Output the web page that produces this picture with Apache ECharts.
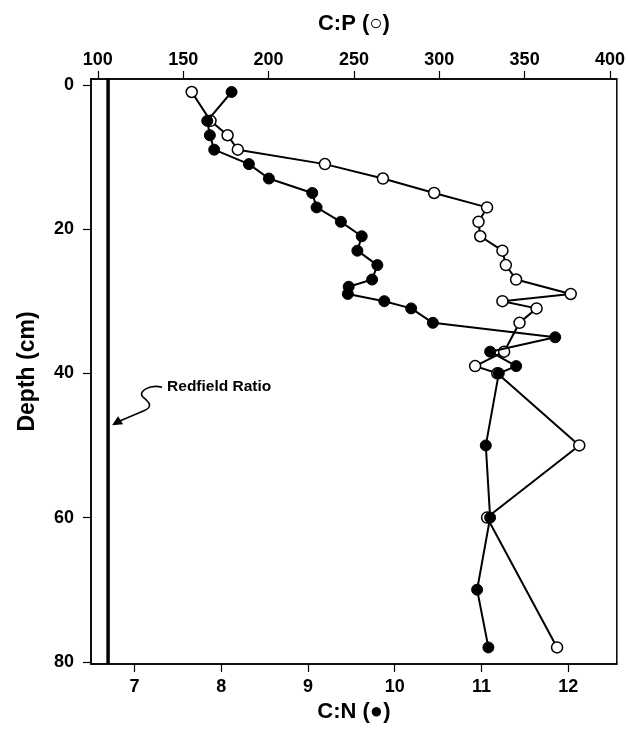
<!DOCTYPE html>
<html>
<head>
<meta charset="utf-8">
<script src="https://cdn.jsdelivr.net/npm/echarts@6/dist/echarts.min.js"></script>
<style>
  html, body { margin: 0; padding: 0; background: #fff; }
  #chart { width: 628px; height: 729px; }
</style>
</head>
<body>
<div id="chart"></div>
<script>
// Tick positions for the three axes
const depthTicks = [0, 20, 40, 60, 80];
const cnTicks = [7, 8, 9, 10, 11, 12];
const cpTicks = [100, 150, 200, 250, 300, 350, 400];

// C:N profile (filled circles): depth in cm, molar ratio
const cnDepth  = [1, 5, 7, 9, 11, 13, 15, 17, 19, 21, 23, 25, 27, 28, 29, 30, 31, 33, 35, 37, 39, 40, 50, 60, 70, 78];
const cnValues = [8.12, 7.84, 7.87, 7.92, 8.32, 8.55, 9.05, 9.10, 9.38, 9.62, 9.57, 9.80, 9.74, 9.47, 9.46, 9.88, 10.19, 10.44, 11.85, 11.10, 11.40, 11.20, 11.05, 11.10, 10.95, 11.08];

// C:P profile (open circles): depth in cm, molar ratio
const cpDepth  = [1, 5, 7, 9, 11, 13, 15, 17, 19, 21, 23, 25, 27, 29, 30, 31, 33, 37, 39, 40, 50, 60, 78];
const cpValues = [155, 166, 176, 182, 233, 267, 297, 328, 323, 324, 337, 339, 345, 377, 337, 357, 347, 338, 321, 334, 382, 328, 369];

// Redfield C:P ratio
const redfieldCP = 106;
const redfieldLabel = 'Redfield Ratio';

// Axis extents
const depthMin = -0.8, depthMax = 80.3;
const cnMin = 6.5, cnMax = 12.56;
const cpMin = 96, cpMax = 404;

const FONT = "'Liberation Sans', Arial, Helvetica, sans-serif";

const cnData = cnDepth.map((d, i) => [cnValues[i], d]);
const cpData = cpDepth.map((d, i) => [cpValues[i], d]);

const chart = echarts.init(document.getElementById('chart'), null, { renderer: 'canvas' });

const axisText = { color: '#000', fontFamily: FONT, fontWeight: 'bold', fontSize: 18 };
const nameText = { color: '#000', fontFamily: FONT, fontWeight: 'bold', fontSize: 22 };

function xAxisDef(pos, min, max, ticks, name, gap, margin) {
  return {
    type: 'value', position: pos, min: min, max: max,
    name: name, nameLocation: 'middle', nameGap: gap, nameTextStyle: nameText,
    axisLine: { show: true, onZero: false, lineStyle: { color: '#000', width: 1.5 } },
    axisTick: { show: true, inside: false, length: 8, customValues: ticks, lineStyle: { color: '#000', width: 1.2 } },
    axisLabel: Object.assign({ customValues: ticks, margin: margin }, axisText),
    splitLine: { show: false }
  };
}

chart.setOption({
  animation: false,
  backgroundColor: '#fff',
  grid: { left: 91, right: 8, top: 79, bottom: 65, show: true, borderColor: '#000', borderWidth: 1.5, backgroundColor: '#fff' },
  xAxis: [
    xAxisDef('bottom', cnMin, cnMax, cnTicks, 'C:N (●)', 36, 14),
    xAxisDef('top', cpMin, cpMax, cpTicks, 'C:P (○)', 44, 10)
  ],
  yAxis: {
    type: 'value', inverse: true, min: depthMin, max: depthMax,
    name: 'Depth (cm)', nameLocation: 'middle', nameGap: 52, nameTextStyle: Object.assign({}, nameText, { fontSize: 23 }),
    axisLine: { show: true, onZero: false, lineStyle: { color: '#000', width: 1.5 } },
    axisTick: { show: true, inside: false, length: 8, customValues: depthTicks, lineStyle: { color: '#000', width: 1.2 } },
    axisLabel: Object.assign({ customValues: depthTicks, margin: 17 }, axisText),
    splitLine: { show: false }
  },
  series: [
    {
      name: 'Redfield', type: 'line', xAxisIndex: 1, yAxisIndex: 0,
      data: [[redfieldCP, depthMin], [redfieldCP, depthMax]],
      symbol: 'none', lineStyle: { color: '#000', width: 3.5 }, z: 3
    },
    {
      name: 'C:P', type: 'line', xAxisIndex: 1, yAxisIndex: 0, data: cpData,
      symbol: 'circle', symbolSize: 11,
      lineStyle: { color: '#000', width: 2 },
      itemStyle: { color: '#fff', borderColor: '#000', borderWidth: 1.5 }, z: 4
    },
    {
      name: 'C:N', type: 'line', xAxisIndex: 0, yAxisIndex: 0, data: cnData,
      symbol: 'circle', symbolSize: 11,
      lineStyle: { color: '#000', width: 2 },
      itemStyle: { color: '#000', borderColor: '#000', borderWidth: 1 }, z: 5
    }
  ]
});

// Annotation: label with a curly arrow pointing at the Redfield line
const tip = chart.convertToPixel({ xAxisIndex: 1, yAxisIndex: 0 }, [redfieldCP, 47.2]);
const tx = tip[0] + 4, ty = tip[1];
const sx = tx + 50, sy = ty - 38;
chart.setOption({
  graphic: [
    {
      type: 'text', x: sx + 5, y: sy - 9, z: 10,
      style: { text: redfieldLabel, fill: '#000', font: 'bold 15.5px ' + FONT }
    },
    {
      type: 'bezierCurve', z: 10,
      shape: { x1: sx, y1: sy, cpx1: sx - 12, cpy1: sy - 3, cpx2: sx - 25, cpy2: sy + 4, x2: sx - 19, y2: sy + 10 },
      style: { fill: null, stroke: '#000', lineWidth: 1.6 }
    },
    {
      type: 'bezierCurve', z: 10,
      shape: { x1: sx - 19, y1: sy + 10, cpx1: sx - 13, cpy1: sy + 15, cpx2: sx - 9, cpy2: sy + 19, x2: sx - 17, y2: sy + 23 },
      style: { fill: null, stroke: '#000', lineWidth: 1.6 }
    },
    {
      type: 'line', z: 10,
      shape: { x1: sx - 17, y1: sy + 23, x2: tx + 7, y2: ty - 4 },
      style: { stroke: '#000', lineWidth: 1.6 }
    },
    {
      type: 'polygon', z: 10,
      shape: { points: [[tx, ty], [tx + 6, ty - 9], [tx + 11, ty - 1]] },
      style: { fill: '#000' }
    }
  ]
});
</script>
</body>
</html>
